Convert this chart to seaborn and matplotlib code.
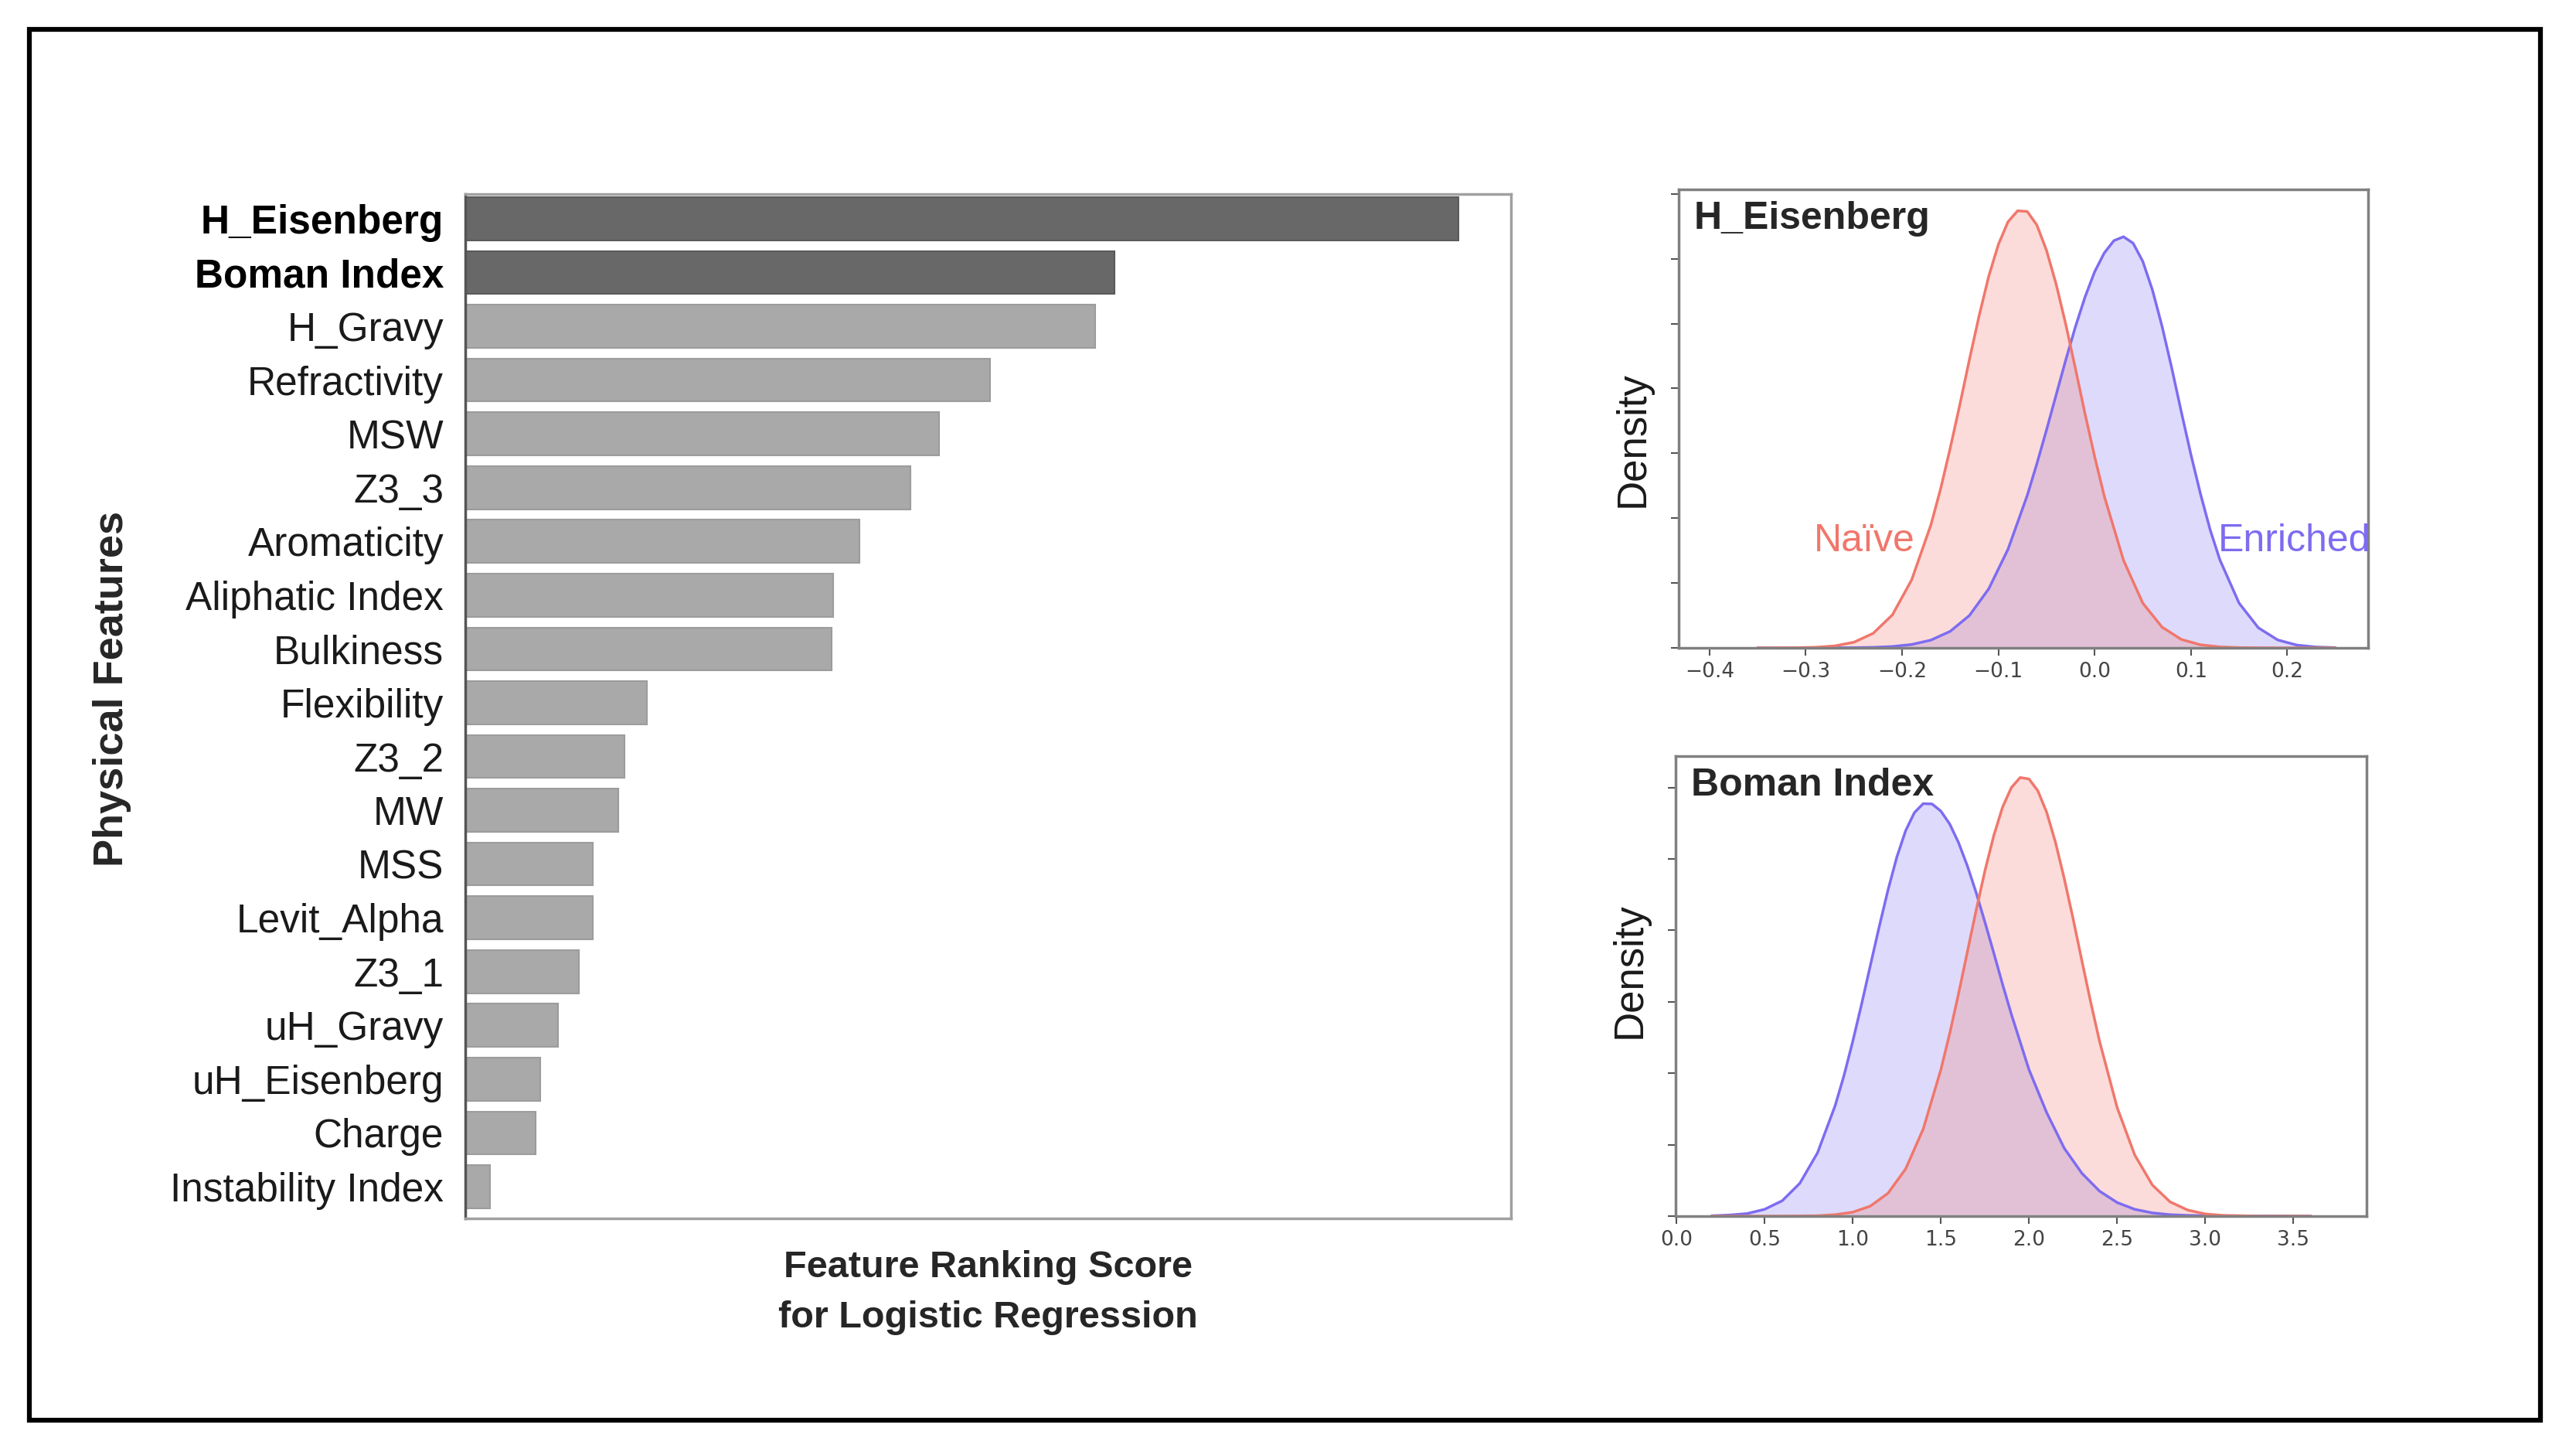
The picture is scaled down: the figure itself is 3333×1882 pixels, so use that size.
import seaborn as sns
import matplotlib.pyplot as plt
from matplotlib.patches import Rectangle

# Feature ranking (bar lengths, axis runs 0..1)
features = ["H_Eisenberg", "Boman Index", "H_Gravy", "Refractivity", "MSW", "Z3_3",
            "Aromaticity", "Aliphatic Index", "Bulkiness", "Flexibility", "Z3_2", "MW",
            "MSS", "Levit_Alpha", "Z3_1", "uH_Gravy", "uH_Eisenberg", "Charge",
            "Instability Index"]
scores = [0.950, 0.621, 0.602, 0.502, 0.453, 0.426, 0.377, 0.352, 0.350, 0.174,
          0.152, 0.146, 0.122, 0.122, 0.109, 0.089, 0.072, 0.067, 0.024]

# H_Eisenberg density curves (heights read at these x positions, denser near the peaks)
he_naive_x = [-0.35, -0.33, -0.31, -0.29, -0.27, -0.25, -0.23, -0.21, -0.19, -0.17,
              -0.16, -0.15, -0.14, -0.13, -0.12, -0.11, -0.10, -0.09, -0.08, -0.07,
              -0.06, -0.05, -0.04, -0.03, -0.02, -0.01, 0.00, 0.01, 0.03, 0.05, 0.07,
              0.09, 0.11, 0.13, 0.15, 0.17, 0.19, 0.21, 0.25]
he_naive = [0.0, 0.001, 0.003, 0.009, 0.030, 0.087, 0.224, 0.51, 1.05, 1.90, 2.45,
            3.08, 3.75, 4.45, 5.12, 5.73, 6.22, 6.57, 6.74, 6.73, 6.52, 6.13, 5.61,
            4.99, 4.31, 3.61, 2.95, 2.34, 1.35, 0.69, 0.32, 0.13, 0.047, 0.015, 0.004,
            0.001, 0.0, 0.0, 0.0]
he_enr_x = [-0.35, -0.31, -0.29, -0.27, -0.25, -0.23, -0.21, -0.19, -0.17, -0.15,
            -0.13, -0.11, -0.09, -0.07, -0.06, -0.05, -0.04, -0.03, -0.02, -0.01,
            0.00, 0.01, 0.02, 0.03, 0.04, 0.05, 0.06, 0.07, 0.08, 0.09, 0.10, 0.11,
            0.12, 0.13, 0.15, 0.17, 0.19, 0.21, 0.23, 0.25]
he_enriched = [0.0, 0.0, 0.0002, 0.001, 0.003, 0.008, 0.021, 0.052, 0.120, 0.255,
               0.50, 0.91, 1.52, 2.35, 2.84, 3.36, 3.90, 4.44, 4.95, 5.41, 5.80, 6.09,
               6.28, 6.34, 6.24, 5.96, 5.52, 4.96, 4.32, 3.64, 2.98, 2.37, 1.82, 1.36,
               0.69, 0.31, 0.123, 0.043, 0.013, 0.004]

# Boman Index density curves
bi_naive_x = [0.2, 0.5, 0.6, 0.7, 0.8, 0.9, 1.0, 1.1, 1.2, 1.3, 1.4, 1.5, 1.55, 1.6,
              1.65, 1.7, 1.75, 1.8, 1.85, 1.9, 1.95, 2.0, 2.05, 2.1, 2.15, 2.2, 2.25,
              2.3, 2.35, 2.4, 2.5, 2.6, 2.7, 2.8, 2.9, 3.0, 3.1, 3.2, 3.3, 3.6]
bi_naive = [0.0, 0.0, 0.0001, 0.0004, 0.001, 0.004, 0.011, 0.028, 0.064, 0.132, 0.244,
            0.410, 0.511, 0.622, 0.739, 0.856, 0.967, 1.065, 1.145, 1.200, 1.228,
            1.224, 1.191, 1.131, 1.047, 0.945, 0.833, 0.715, 0.599, 0.490, 0.304,
            0.171, 0.087, 0.040, 0.017, 0.006, 0.002, 0.001, 0.0, 0.0]
bi_enr_x = [0.2, 0.3, 0.4, 0.5, 0.6, 0.7, 0.8, 0.9, 0.95, 1.0, 1.05, 1.1, 1.15, 1.2,
            1.25, 1.3, 1.35, 1.4, 1.45, 1.5, 1.55, 1.6, 1.65, 1.7, 1.75, 1.8, 1.85,
            1.9, 2.0, 2.1, 2.2, 2.3, 2.4, 2.5, 2.6, 2.7, 2.8, 2.9, 3.0, 3.6]
bi_enriched = [0.001, 0.003, 0.007, 0.019, 0.043, 0.092, 0.177, 0.309, 0.393, 0.489,
               0.593, 0.702, 0.810, 0.913, 1.005, 1.079, 1.130, 1.155, 1.154, 1.134,
               1.098, 1.046, 0.981, 0.906, 0.823, 0.737, 0.649, 0.565, 0.41, 0.29,
               0.19, 0.12, 0.07, 0.038, 0.019, 0.009, 0.004, 0.002, 0.001, 0.0]

sns.set_theme(style="white")
plt.rcParams["font.family"] = ["Liberation Sans", "DejaVu Sans"]

NAIVE = "#f0776c"
ENRICHED = "#7d6cf0"

W, H = 3333, 1882
fig = plt.figure(figsize=(W / 100, H / 100), dpi=100)
fig.patch.set_facecolor("white")

# ---- bar chart ----
ax = fig.add_axes([602 / W, 1 - 1576 / H, 1353 / W, 1325 / H])
bar_colors = ["#686868"] * 2 + ["#a9a9a9"] * 17
sns.barplot(x=scores, y=features, hue=features, palette=bar_colors, legend=False,
            orient="h", width=0.8, ax=ax)
for i, p in enumerate(ax.patches):
    p.set_edgecolor("#5a5a5a" if i < 2 else "#9c9c9c")
    p.set_linewidth(1.5)
ax.set_xlim(0, 1.0)
ax.set_ylim(18.59, -0.46)
ax.set_xticks([])
ax.set_xlabel("")
ax.set_ylabel("")
ax.tick_params(axis="y", length=0, pad=20, labelsize=37, labelcolor="#1a1a1a")
for lbl in ax.get_yticklabels()[:2]:
    lbl.set_fontweight("bold")
    lbl.set_color("black")
for s in ax.spines.values():
    s.set_visible(True)
    s.set_color("#a0a0a0")
    s.set_linewidth(2.5)
ax.spines["left"].set_color("#555555")

fig.text(145 / W, 1 - 891 / H, "Physical Features", rotation=90, ha="center",
         va="center", fontsize=39, fontweight="bold")
fig.text(1278 / W, 1 - 1672 / H, "Feature Ranking Score\nfor Logistic Regression",
         ha="center", va="center", fontsize=35, fontweight="bold", linespacing=1.55)


def density_panel(rect, curves, xlim, ylim, yticks, xticks, title, label_y,
                  show_names):
    a = fig.add_axes(rect)
    # enriched first, naive on top (as in the original overlap colour)
    for xs, ys, col in curves:
        a.fill_between(xs, ys, color=col, alpha=0.25, lw=0)
        sns.lineplot(x=xs, y=ys, color=col, lw=2.5, ax=a)
    a.set_xlim(*xlim)
    a.set_ylim(*ylim)
    a.set_yticks(yticks)
    a.set_yticklabels([])
    a.set_xticks(xticks)
    a.tick_params(axis="both", bottom=True, left=True, direction="out", length=7,
                  width=1.5, color="#555555")
    a.tick_params(axis="x", labelsize=19, labelcolor="#444444", pad=6)
    for lbl in a.get_xticklabels():
        lbl.set_family("DejaVu Sans")
    for s in a.spines.values():
        s.set_color("#808080")
        s.set_linewidth(2.5)
    a.set_ylabel("Density", fontsize=38, color="#1a1a1a")
    a.yaxis.set_label_coords(-0.039, label_y)
    a.text(0.022, 0.975, title, transform=a.transAxes, ha="left", va="top",
           fontsize=36, fontweight="bold")
    if show_names:
        a.text(-0.292, 1.65, "Naïve", color=NAIVE, fontsize=36, ha="left",
               va="center")
        a.text(0.128, 1.65, "Enriched", color=ENRICHED, fontsize=36, ha="left",
               va="center")
    return a


density_panel([2172 / W, 1 - 838 / H, 892 / W, 593 / H],
              [(he_enr_x, he_enriched, ENRICHED), (he_naive_x, he_naive, NAIVE)],
              (-0.432, 0.284), (0, 7.07), range(0, 8),
              [-0.4, -0.3, -0.2, -0.1, 0.0, 0.1, 0.2], "H_Eisenberg", 0.455, True)
density_panel([2168 / W, 1 - 1573 / H, 894 / W, 595 / H],
              [(bi_enr_x, bi_enriched, ENRICHED), (bi_naive_x, bi_naive, NAIVE)],
              (-0.005, 3.915), (0, 1.288), [0, 0.2, 0.4, 0.6, 0.8, 1.0, 1.2],
              [0.0, 0.5, 1.0, 1.5, 2.0, 2.5, 3.0, 3.5], "Boman Index", 0.534, False)

# outer frame
fig.add_artist(Rectangle((38 / W, 1 - 1837 / H), (3287 - 38) / W, (1837 - 38) / H,
                         transform=fig.transFigure, fill=False, ec="black", lw=4.5))

plt.savefig("out.png", dpi=100)
